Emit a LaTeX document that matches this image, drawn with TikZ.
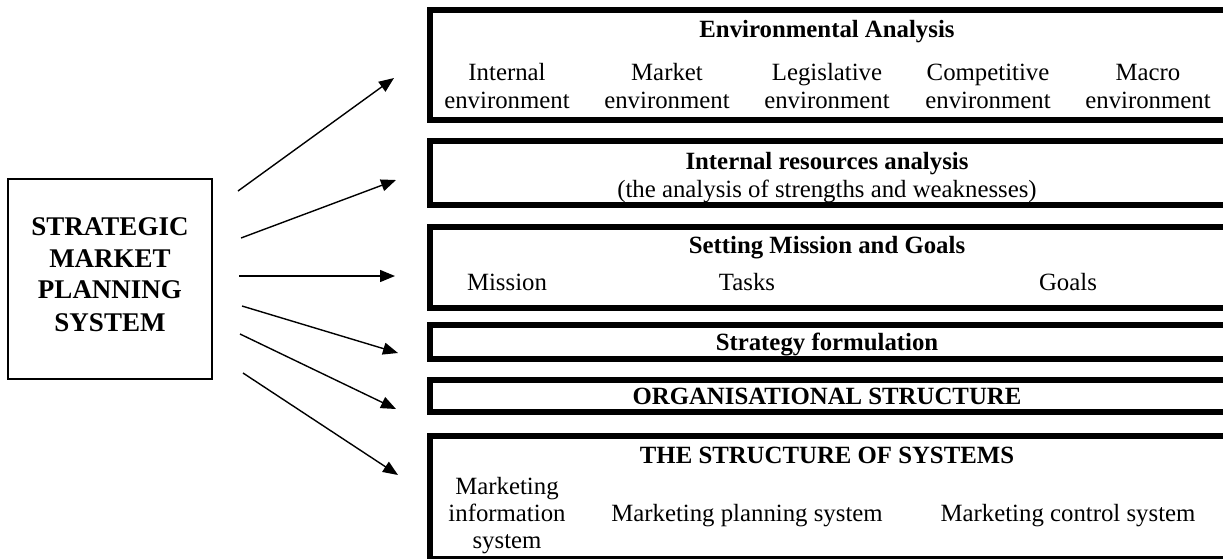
\documentclass[tikz,border=0pt]{standalone}
\usepackage{fontspec}
\setmainfont{Liberation Serif}
\usetikzlibrary{arrows.meta}
\begin{document}
\begin{tikzpicture}[x=1pt,y=-1pt,
  panel/.style={draw, line width=6pt, rectangle, inner sep=0pt, outer sep=0pt,
    anchor=north west, minimum width=800.5pt},
  corebox/.style={draw, line width=1.4pt, rectangle, inner sep=0pt, outer sep=0pt,
    anchor=north west, minimum width=204pt, minimum height=200pt},
  txt/.style={anchor=base, inner sep=0pt, font=\fontsize{24.8}{28}\selectfont},
  head/.style={txt, font=\fontsize{24.8}{28}\selectfont\bfseries},
  coretxt/.style={anchor=base, inner sep=0pt, font=\fontsize{27}{32}\selectfont\bfseries},
  arr/.style={line width=1.4pt, -{Triangle[length=15pt,width=12pt]}}]
\useasboundingbox (0,0) rectangle (1223,558);
\clip (0,0) rectangle (1223,558);

% central block
\node[corebox] (core) at (8,179) {};
\node[coretxt] (c1) at (110,235) {STRATEGIC};
\node[coretxt] (c2) at (110,267) {MARKET};
\node[coretxt] (c3) at (110,298) {PLANNING};
\node[coretxt] (c4) at (110,331) {SYSTEM};

% panels on the right (their right edges run past the page)
\node[panel, minimum height=109.5pt] (env)  at (429.5,10)  {};
\node[panel, minimum height=64pt]    (res)  at (429.5,141) {};
\node[panel, minimum height=81.5pt]  (mis)  at (429.5,226.5) {};
\node[panel, minimum height=33.5pt]  (str)  at (429.5,325) {};
\node[panel, minimum height=31.5pt]  (org)  at (429.5,380) {};
\node[panel, minimum height=123pt]   (sys)  at (429.5,436) {};

% Environmental Analysis
\node[head] (envh) at (827,37) {Environmental Analysis};
\node[txt] (e1a) at (507,80)  {Internal};
\node[txt] (e1b) at (507,108) {environment};
\node[txt] (e2a) at (667,80)  {Market};
\node[txt] (e2b) at (667,108) {environment};
\node[txt] (e3a) at (827,80)  {Legislative};
\node[txt] (e3b) at (827,108) {environment};
\node[txt] (e4a) at (988,80)  {Competitive};
\node[txt] (e4b) at (988,108) {environment};
\node[txt] (e5a) at (1148,80) {Macro};
\node[txt] (e5b) at (1148,108) {environment};

% Internal resources analysis
\node[head] (resh) at (827,169) {Internal resources analysis};
\node[txt]  (resa) at (827,197) {(the analysis of strengths and weaknesses)};

% Setting Mission and Goals
\node[head] (mish) at (827,253) {Setting Mission and Goals};
\node[txt] (m1) at (507,290)  {Mission};
\node[txt] (m2) at (747,290)  {Tasks};
\node[txt] (m3) at (1068,290) {Goals};

% Strategy formulation
\node[head] (strh) at (827,350) {Strategy formulation};

% Organisational structure
\node[head] (orgh) at (827,404) {ORGANISATIONAL STRUCTURE};

% The structure of systems
\node[head] (sysh) at (827,463) {THE STRUCTURE OF SYSTEMS};
\node[txt] (s1a) at (507,494) {Marketing};
\node[txt] (s1b) at (507,521) {information};
\node[txt] (s1c) at (507,548) {system};
\node[txt] (s2)  at (747,521) {Marketing planning system};
\node[txt] (s3)  at (1068,521) {Marketing control system};

% arrow ends
\coordinate (a1) at (238,191); \coordinate (b1) at (394,78);
\coordinate (a2) at (241,238); \coordinate (b2) at (396,180);
\coordinate (a3) at (239,276); \coordinate (b3) at (395,276);
\coordinate (a4) at (242,306); \coordinate (b4) at (398,353);
\coordinate (a5) at (240,334); \coordinate (b5) at (396,409);
\coordinate (a6) at (243,373); \coordinate (b6) at (398,475);
\foreach \i in {1,...,6} \draw[arr] (a\i) -- (b\i);
\end{tikzpicture}
\end{document}
